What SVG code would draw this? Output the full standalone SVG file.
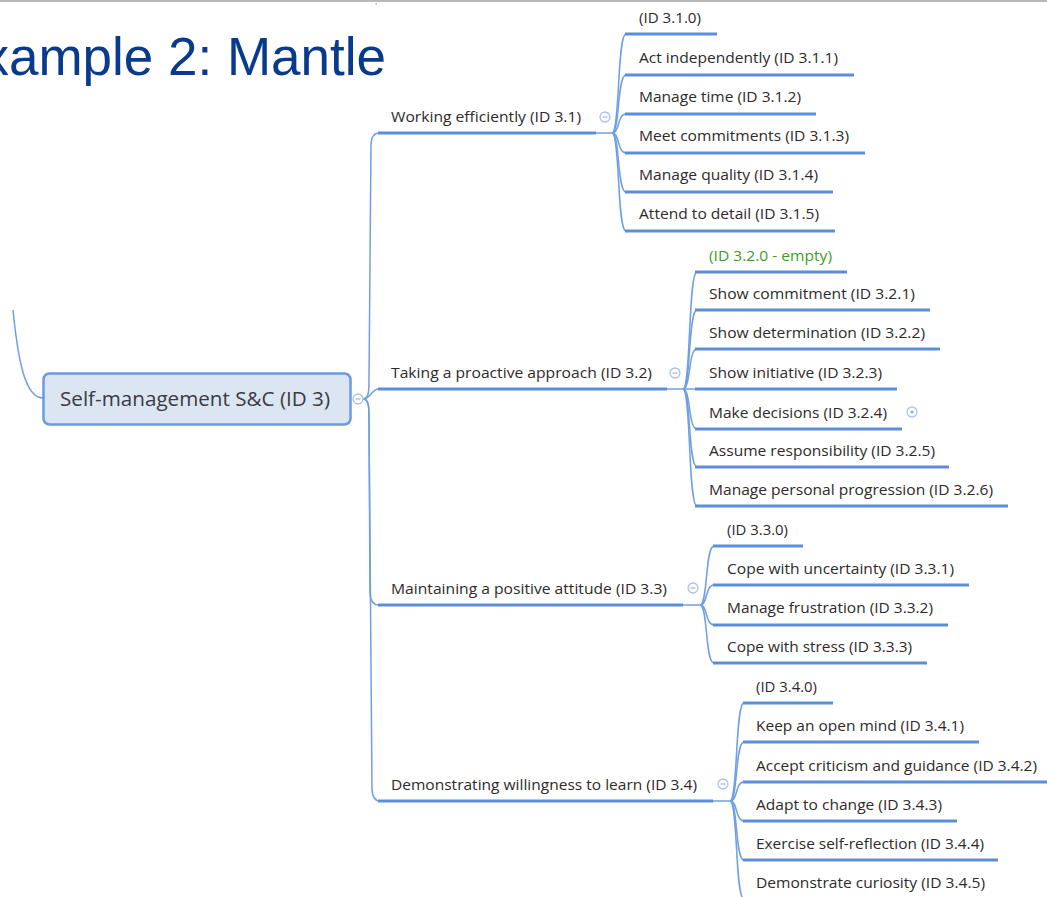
<svg xmlns="http://www.w3.org/2000/svg" width="1047" height="897" viewBox="0 0 1047 897">
<style>
.t{font-family:"Open Sans","Noto Sans","DejaVu Sans",sans-serif;font-size:14.5px;fill:#2e2a2a}
.g{fill:#3e9b2e}
.ul{stroke:#5b8dd9;stroke-width:3;fill:none;stroke-linecap:butt}
.cn{stroke:#6f9fe3;stroke-width:1.5;fill:none}
.cc{fill:#fff;stroke:#a9c2ea;stroke-width:1.3}
.cm{stroke:#9ab6e4;stroke-width:1.2}
</style>
<rect x="0" y="0" width="1047" height="897" fill="#fff"/>
<rect x="0" y="0" width="1047" height="2" fill="#b8b8b8"/>
<rect x="375.5" y="3" width="1.5" height="1.5" fill="#8fb0e0"/>
<text x="386" y="75" text-anchor="end" font-family="'Liberation Sans',Arial,sans-serif" font-size="53" fill="#0a3a8c">xample 2: Mantle</text>

<g id="connectors">
<path class="cn" d="M13 310 C18 360 25 398 43 398"/>
<path class="cn" d="M363 399 C369 399 369 390 369 380 L371 145 Q371.5 133 379 133"/>
<path class="cn" d="M363 399 C371 399 371 389 379 389"/>
<path class="cn" d="M363 399 C369 399 369 408 369 418 L370 593 Q370.5 605 379 605"/>
<path class="cn" d="M363 399 C369 399 369 408 369 418 L372 789 Q372.5 801 380 801"/>
<line class="ul" x1="378" y1="133" x2="596" y2="133"/>
<line class="ul" x1="378" y1="389" x2="667" y2="389"/>
<line class="ul" x1="378" y1="605" x2="683" y2="605"/>
<line class="ul" x1="378" y1="801" x2="713" y2="801"/>
<!-- 3.1 children -->
<path class="cn" d="M596 133 L612 133"/>
<path class="cn" d="M612 133 C620 133 617 34 626 34"/>
<path class="cn" d="M612 133 C620 133 617 75 626 75"/>
<path class="cn" d="M612 133 C620 133 617 114 626 114"/>
<path class="cn" d="M612 133 C620 133 617 153 626 153"/>
<path class="cn" d="M612 133 C620 133 617 192 626 192"/>
<path class="cn" d="M612 133 C620 133 617 231 626 231"/>
<line class="ul" x1="625" y1="34" x2="717" y2="34"/>
<line class="ul" x1="625" y1="75" x2="854" y2="75"/>
<line class="ul" x1="625" y1="114" x2="816" y2="114"/>
<line class="ul" x1="625" y1="153" x2="865" y2="153"/>
<line class="ul" x1="625" y1="192" x2="833" y2="192"/>
<line class="ul" x1="625" y1="231" x2="835" y2="231"/>
<!-- 3.2 children -->
<path class="cn" d="M667 389 L683 389"/>
<path class="cn" d="M683 389 C691 389 688 272 697 272"/>
<path class="cn" d="M683 389 C691 389 688 310 697 310"/>
<path class="cn" d="M683 389 C691 389 688 349 697 349"/>
<path class="cn" d="M683 389 L697 389"/>
<path class="cn" d="M683 389 C691 389 688 429 697 429"/>
<path class="cn" d="M683 389 C691 389 688 467 697 467"/>
<path class="cn" d="M683 389 C691 389 688 506 697 506"/>
<line class="ul" x1="695" y1="272" x2="847" y2="272"/>
<line class="ul" x1="695" y1="310" x2="930" y2="310"/>
<line class="ul" x1="695" y1="349" x2="940" y2="349"/>
<line class="ul" x1="695" y1="389" x2="897" y2="389"/>
<line class="ul" x1="695" y1="429" x2="902" y2="429"/>
<line class="ul" x1="695" y1="467" x2="949" y2="467"/>
<line class="ul" x1="695" y1="506" x2="1008" y2="506"/>
<!-- 3.3 children -->
<path class="cn" d="M683 605 L700 605"/>
<path class="cn" d="M700 605 C708 605 705 546 714 546"/>
<path class="cn" d="M700 605 C708 605 705 585 714 585"/>
<path class="cn" d="M700 605 C708 605 705 625 714 625"/>
<path class="cn" d="M700 605 C708 605 705 663 714 663"/>
<line class="ul" x1="713" y1="546" x2="803" y2="546"/>
<line class="ul" x1="713" y1="585" x2="969" y2="585"/>
<line class="ul" x1="713" y1="625" x2="948" y2="625"/>
<line class="ul" x1="713" y1="663" x2="927" y2="663"/>
<!-- 3.4 children -->
<path class="cn" d="M713 801 L730 801"/>
<path class="cn" d="M730 801 C738 801 735 703 744 703"/>
<path class="cn" d="M730 801 C738 801 735 742 744 742"/>
<path class="cn" d="M730 801 C738 801 735 782 744 782"/>
<path class="cn" d="M730 801 C738 801 735 821 744 821"/>
<path class="cn" d="M730 801 C738 801 735 860 744 860"/>
<path class="cn" d="M730 801 C738 801 735 899 744 899"/>
<line class="ul" x1="743" y1="703" x2="833" y2="703"/>
<line class="ul" x1="743" y1="742" x2="979" y2="742"/>
<line class="ul" x1="743" y1="782" x2="1047" y2="782"/>
<line class="ul" x1="743" y1="821" x2="957" y2="821"/>
<line class="ul" x1="743" y1="860" x2="998" y2="860"/>
<line class="ul" x1="743" y1="899" x2="1000" y2="899"/>
</g>

<g id="root">
<rect x="43.5" y="373.5" width="307" height="51" rx="6" fill="#dce6f3" stroke="#6a9be0" stroke-width="2.5"/>
<text x="60" y="406" font-family="'Open Sans','Noto Sans',sans-serif" font-size="20" fill="#3a3a44" textLength="270" lengthAdjust="spacingAndGlyphs">Self-management S&amp;C (ID 3)</text>
<circle class="cc" cx="358" cy="399" r="5"/><line class="cm" x1="355.5" y1="399" x2="360.5" y2="399"/>
</g>

<g id="n3-1">
<text class="t" x="391" y="122" textLength="190" lengthAdjust="spacingAndGlyphs">Working efficiently (ID 3.1)</text>
<circle class="cc" cx="605" cy="117" r="5"/><line class="cm" x1="602.5" y1="117" x2="607.5" y2="117"/>
</g>
<g id="n3-1-0"><text class="t" x="639" y="23" textLength="62" lengthAdjust="spacingAndGlyphs">(ID 3.1.0)</text></g>
<g id="n3-1-1"><text class="t" x="639" y="63" textLength="199" lengthAdjust="spacingAndGlyphs">Act independently (ID 3.1.1)</text></g>
<g id="n3-1-2"><text class="t" x="639" y="102" textLength="162" lengthAdjust="spacingAndGlyphs">Manage time (ID 3.1.2)</text></g>
<g id="n3-1-3"><text class="t" x="639" y="141" textLength="210" lengthAdjust="spacingAndGlyphs">Meet commitments (ID 3.1.3)</text></g>
<g id="n3-1-4"><text class="t" x="639" y="180" textLength="179" lengthAdjust="spacingAndGlyphs">Manage quality (ID 3.1.4)</text></g>
<g id="n3-1-5"><text class="t" x="639" y="219" textLength="180" lengthAdjust="spacingAndGlyphs">Attend to detail (ID 3.1.5)</text></g>

<g id="n3-2">
<text class="t" x="391" y="378" textLength="261" lengthAdjust="spacingAndGlyphs">Taking a proactive approach (ID 3.2)</text>
<circle class="cc" cx="675" cy="373" r="5"/><line class="cm" x1="672.5" y1="373" x2="677.5" y2="373"/>
</g>
<g id="n3-2-0"><text class="t g" x="709" y="261" textLength="123" lengthAdjust="spacingAndGlyphs">(ID 3.2.0 - empty)</text></g>
<g id="n3-2-1"><text class="t" x="709" y="299" textLength="206" lengthAdjust="spacingAndGlyphs">Show commitment (ID 3.2.1)</text></g>
<g id="n3-2-2"><text class="t" x="709" y="338" textLength="216" lengthAdjust="spacingAndGlyphs">Show determination (ID 3.2.2)</text></g>
<g id="n3-2-3"><text class="t" x="709" y="378" textLength="173" lengthAdjust="spacingAndGlyphs">Show initiative (ID 3.2.3)</text></g>
<g id="n3-2-4"><text class="t" x="709" y="418" textLength="178" lengthAdjust="spacingAndGlyphs">Make decisions (ID 3.2.4)</text>
<circle class="cc" cx="912" cy="412" r="5"/><circle cx="912" cy="412" r="1.6" fill="#8aa9dc"/></g>
<g id="n3-2-5"><text class="t" x="709" y="456" textLength="226" lengthAdjust="spacingAndGlyphs">Assume responsibility (ID 3.2.5)</text></g>
<g id="n3-2-6"><text class="t" x="709" y="495" textLength="284" lengthAdjust="spacingAndGlyphs">Manage personal progression (ID 3.2.6)</text></g>

<g id="n3-3">
<text class="t" x="391" y="594" textLength="276" lengthAdjust="spacingAndGlyphs">Maintaining a positive attitude (ID 3.3)</text>
<circle class="cc" cx="693" cy="588" r="5"/><line class="cm" x1="690.5" y1="588" x2="695.5" y2="588"/>
</g>
<g id="n3-3-0"><text class="t" x="727" y="535" textLength="61" lengthAdjust="spacingAndGlyphs">(ID 3.3.0)</text></g>
<g id="n3-3-1"><text class="t" x="727" y="574" textLength="227" lengthAdjust="spacingAndGlyphs">Cope with uncertainty (ID 3.3.1)</text></g>
<g id="n3-3-2"><text class="t" x="727" y="613" textLength="206" lengthAdjust="spacingAndGlyphs">Manage frustration (ID 3.3.2)</text></g>
<g id="n3-3-3"><text class="t" x="727" y="652" textLength="185" lengthAdjust="spacingAndGlyphs">Cope with stress (ID 3.3.3)</text></g>

<g id="n3-4">
<text class="t" x="391" y="790" textLength="306" lengthAdjust="spacingAndGlyphs">Demonstrating willingness to learn (ID 3.4)</text>
<circle class="cc" cx="723" cy="784" r="5"/><line class="cm" x1="720.5" y1="784" x2="725.5" y2="784"/>
</g>
<g id="n3-4-0"><text class="t" x="756" y="692" textLength="61" lengthAdjust="spacingAndGlyphs">(ID 3.4.0)</text></g>
<g id="n3-4-1"><text class="t" x="756" y="731" textLength="208" lengthAdjust="spacingAndGlyphs">Keep an open mind (ID 3.4.1)</text></g>
<g id="n3-4-2"><text class="t" x="756" y="771" textLength="281" lengthAdjust="spacingAndGlyphs">Accept criticism and guidance (ID 3.4.2)</text></g>
<g id="n3-4-3"><text class="t" x="756" y="810" textLength="186" lengthAdjust="spacingAndGlyphs">Adapt to change (ID 3.4.3)</text></g>
<g id="n3-4-4"><text class="t" x="756" y="849" textLength="228" lengthAdjust="spacingAndGlyphs">Exercise self-reflection (ID 3.4.4)</text></g>
<g id="n3-4-5"><text class="t" x="756" y="888" textLength="229" lengthAdjust="spacingAndGlyphs">Demonstrate curiosity (ID 3.4.5)</text></g>
</svg>
